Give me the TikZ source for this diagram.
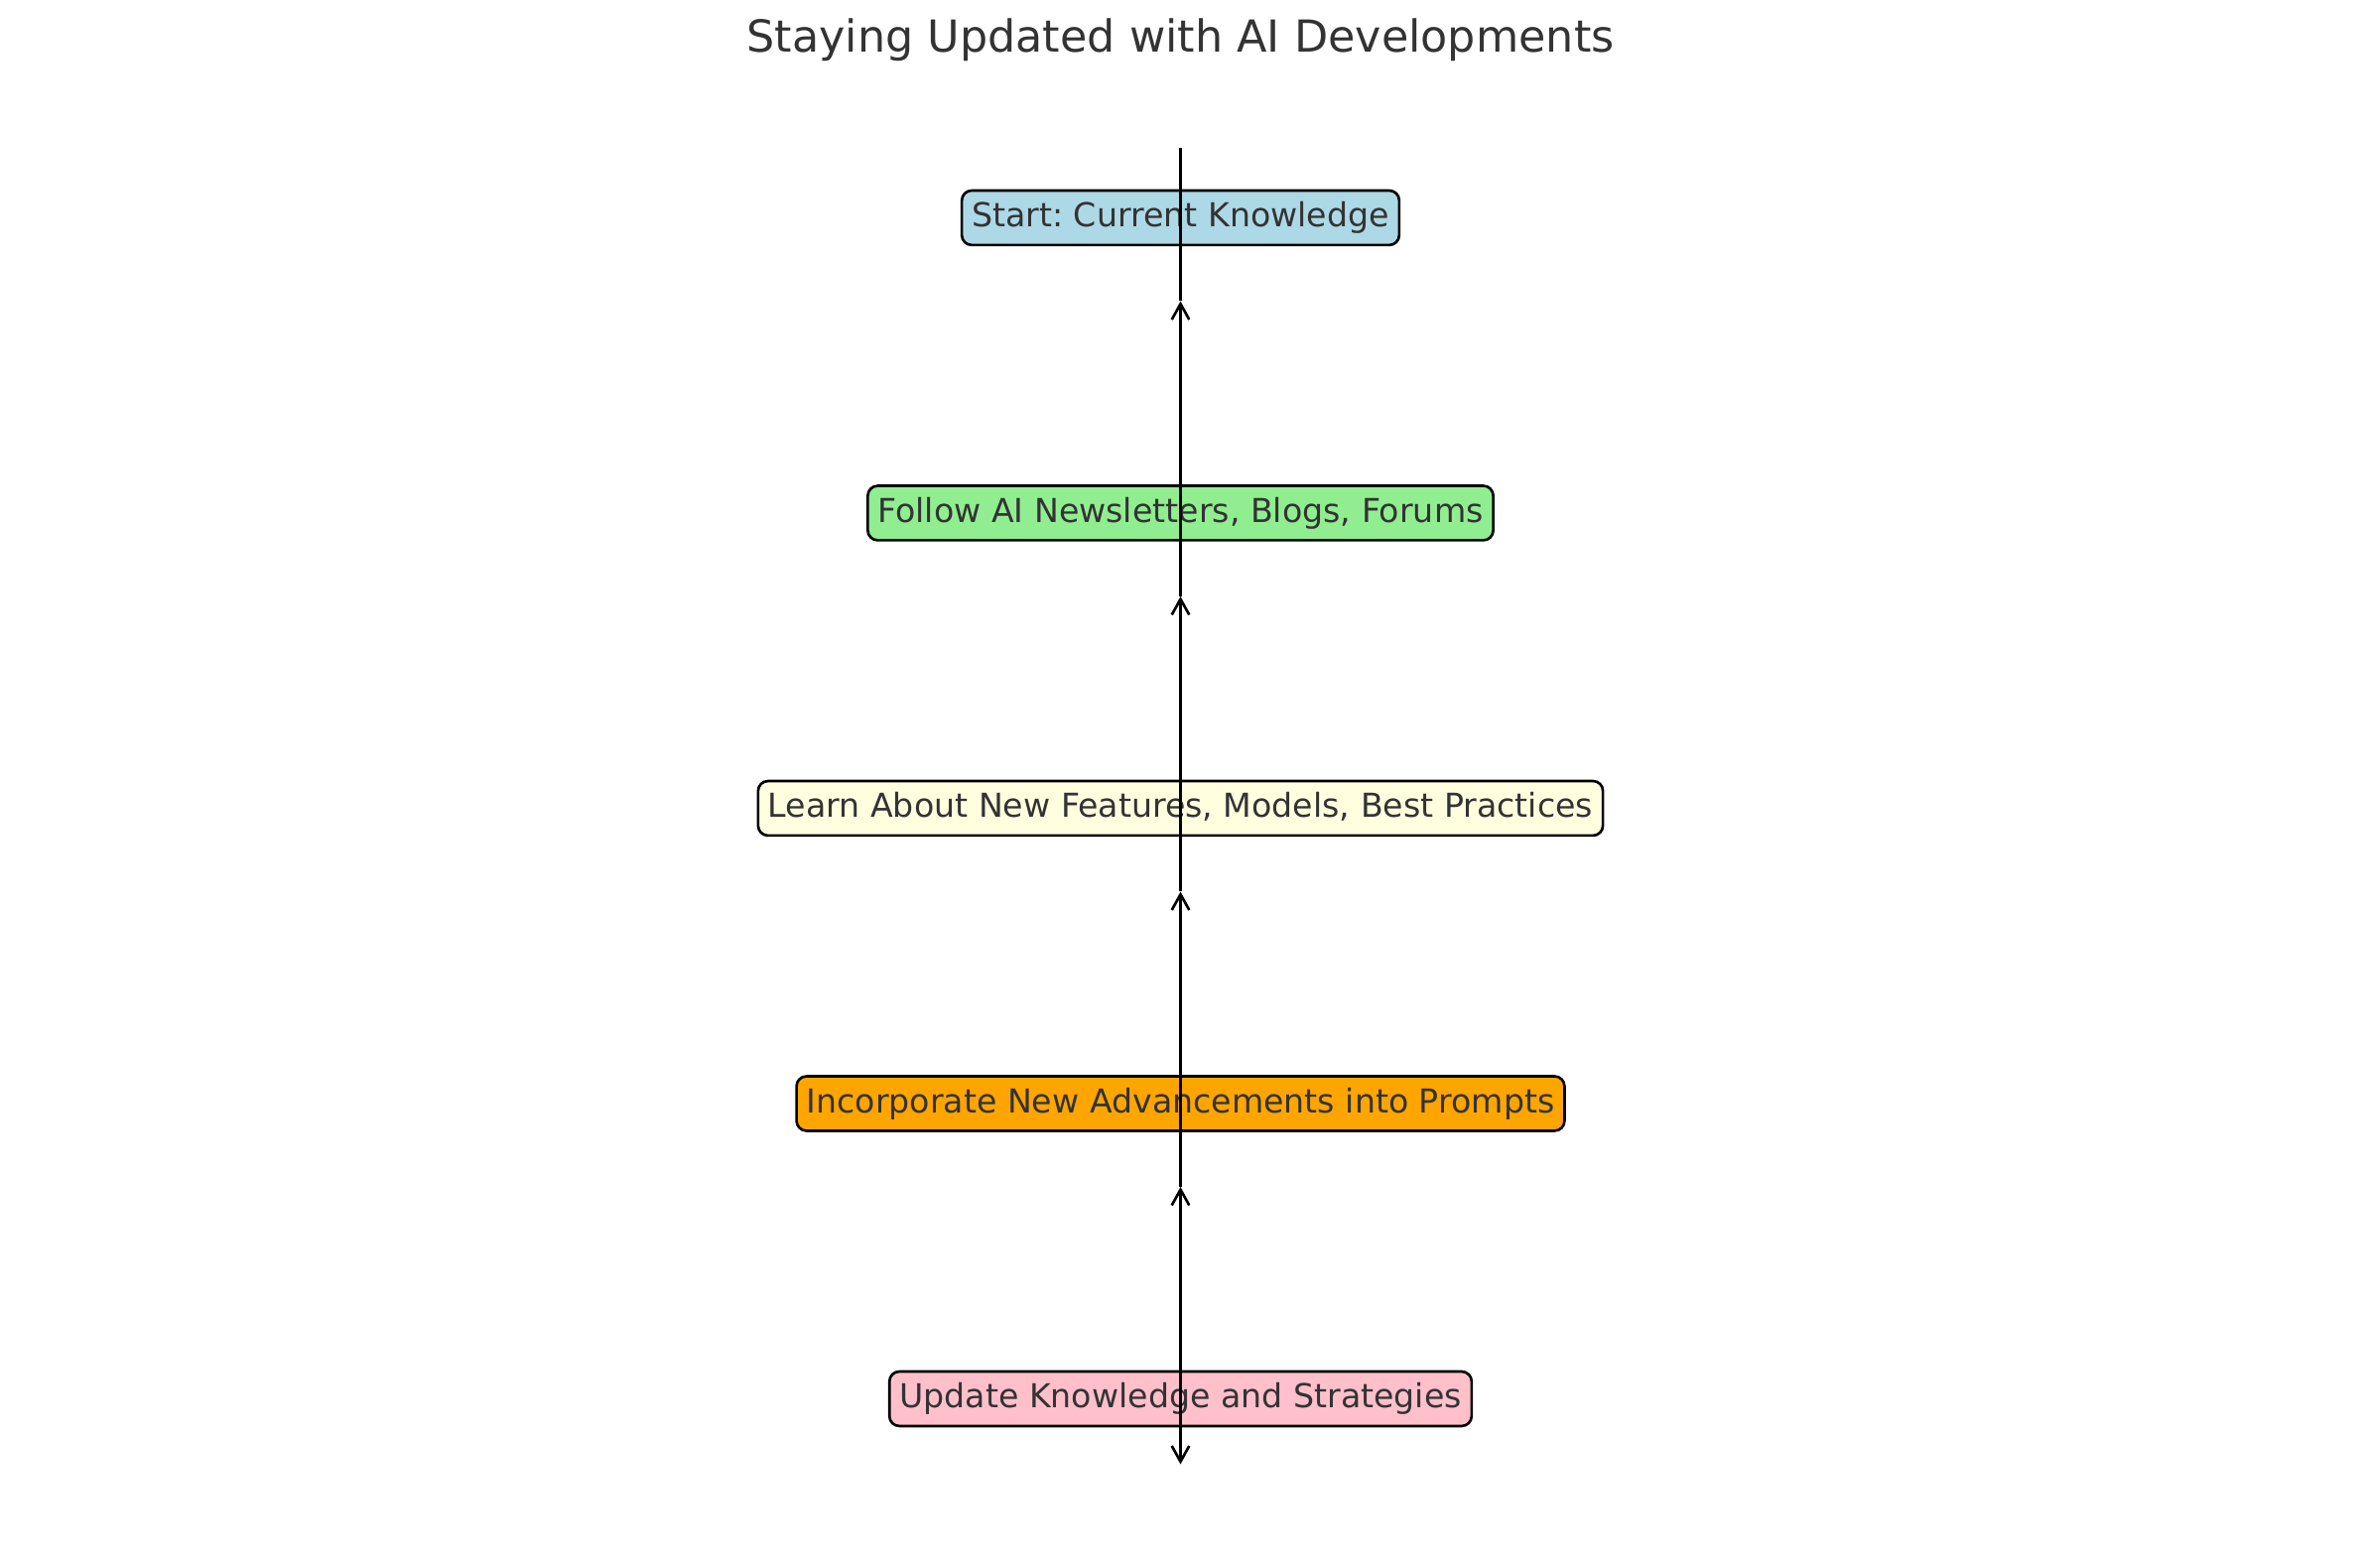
\documentclass[tikz,border=0pt]{standalone}
\usepackage{fontspec}
\setmainfont{DejaVu Sans}
\frenchspacing
\usetikzlibrary{arrows.meta}
\definecolor{textgray}{HTML}{333333}
\definecolor{lightblue}{HTML}{ADD8E6}
\definecolor{lightgreen}{HTML}{90EE90}
\definecolor{lightyellow}{HTML}{FFFFE0}
\definecolor{orange}{HTML}{FFA500}
\definecolor{pink}{HTML}{FFC0CB}
\tikzset{node distance=2.975cm, auto, >={Straight Barb[length=4.5pt,width=5pt]}}
\tikzset{stepbox/.style={draw, rounded corners=0.1cm, line width=0.75pt, text=textgray,
    inner xsep=0.1cm, inner ysep=0.1cm, text height=0.266cm, text depth=0.083cm,
    font=\fontsize{9.45}{11}\selectfont}}

\begin{document}
\begin{tikzpicture}[line width=0.75pt]
                \useasboundingbox (0,0) rectangle (23.79,15.80);
                \node (title) [anchor=base, text=textgray, font=\fontsize{12.65}{15}\selectfont] at (11.895,15.27) {Staying Updated with AI Developments};
                \node (start)   [stepbox, fill=lightblue] at (11.895,13.605) {Start: Current Knowledge};
                \node (follow)  [stepbox, fill=lightgreen, below of=start]   {Follow AI Newsletters, Blogs, Forums};
                \node (learn)   [stepbox, fill=lightyellow, below of=follow] {Learn About New Features, Models, Best Practices};
                \node (advance) [stepbox, fill=orange, below of=learn]       {Incorporate New Advancements into Prompts};
                \node (update)  [stepbox, fill=pink, below of=advance]       {Update Knowledge and Strategies};
                \coordinate [node distance=0.70cm, above of=start] (top);
                \coordinate [node distance=0.84cm, below of=start] (h1);
                \coordinate [node distance=0.79cm, above of=follow] (t1);
                \coordinate [node distance=0.84cm, below of=follow] (h2);
                \coordinate [node distance=0.79cm, above of=learn] (t2);
                \coordinate [node distance=0.84cm, below of=learn] (h3);
                \coordinate [node distance=0.79cm, above of=advance] (t3);
                \coordinate [node distance=0.84cm, below of=advance] (h4);
                \coordinate [node distance=0.79cm, above of=update] (t4);
                \coordinate [node distance=0.66cm, below of=update] (bot);
                \draw (top) -- (h1);
                \draw[->] (t1) -- (h1);
                \draw (t1) -- (h2);
                \draw[->] (t2) -- (h2);
                \draw (t2) -- (h3);
                \draw[->] (t3) -- (h3);
                \draw (t3) -- (h4);
                \draw[->] (t4) -- (h4);
                \draw[->] (t4) -- (bot);
              \end{tikzpicture}
\end{document}
